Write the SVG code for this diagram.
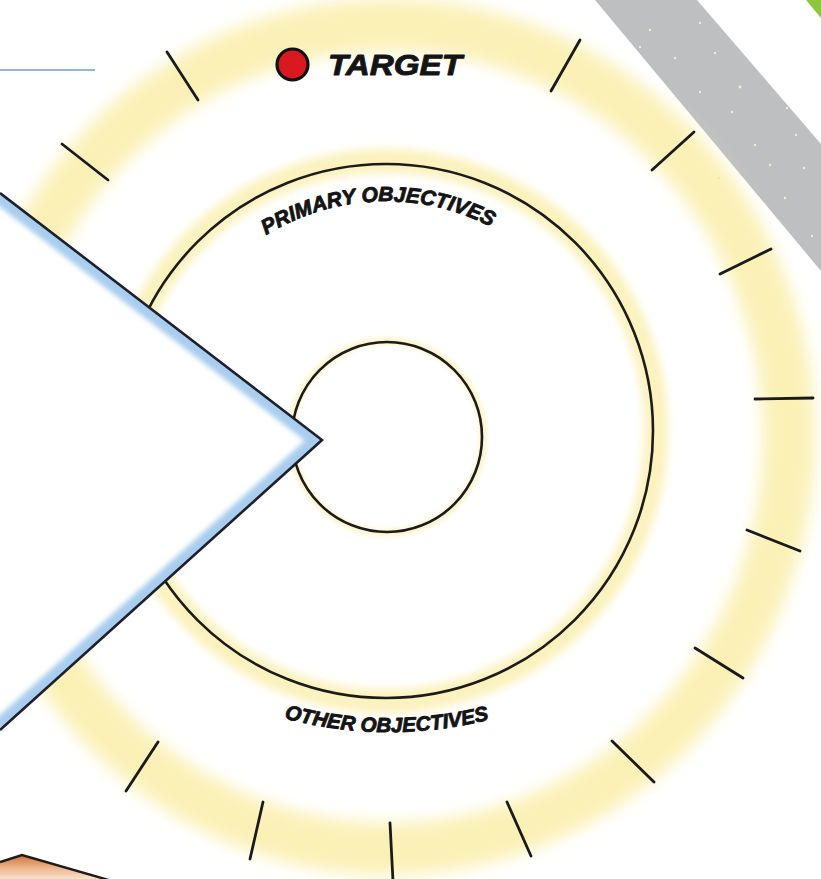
<svg xmlns="http://www.w3.org/2000/svg" width="821" height="879" viewBox="0 0 821 879">
  <defs>
    <style>
      .tick { stroke: #1a1a1a; stroke-width: 2.8; stroke-linecap: round; fill: none; }
      .ring { fill: none; stroke: #1c1a1a; stroke-width: 2.6; }
      .lbl { font-family: "Liberation Sans", Arial, sans-serif; font-weight: bold; font-style: italic; fill: #141414; stroke: #141414; stroke-width: 0.9; stroke-linejoin: round; }
      .dot { fill: #f3eecb; }
    </style>
    <filter id="blur8" x="-20%" y="-20%" width="140%" height="140%"><feGaussianBlur stdDeviation="8"/></filter>
    <filter id="blur4" x="-20%" y="-20%" width="140%" height="140%"><feGaussianBlur stdDeviation="4"/></filter>
    <filter id="blur2" x="-20%" y="-20%" width="140%" height="140%"><feGaussianBlur stdDeviation="2.5"/></filter>
    <clipPath id="triClip"><polygon points="0,193 322,440 0,730"/></clipPath>
    <linearGradient id="peach" x1="0" y1="0" x2="0" y2="1">
      <stop offset="0" stop-color="#c9743a"/>
      <stop offset="0.5" stop-color="#eeb58c"/>
      <stop offset="1" stop-color="#fbe9dc"/>
    </linearGradient>
    <path id="primaryArc" d="M254,243 A230,230 0 0,1 518,243"/>
    <path id="otherArc" d="M280,717 A400,400 0 0,0 502,716"/>
  </defs>

  <rect width="821" height="879" fill="#ffffff"/>

  <g id="background-band">
    <polygon points="595,0 697,0 821,144 821,271" fill="#bebfc1"/>
    <polygon points="806,0 821,0 821,18" fill="#8cc63f"/>
    <g>
      <circle class="dot" cx="650" cy="30" r="1.2"/>
      <circle class="dot" cx="700" cy="23" r="1.2"/>
      <circle class="dot" cx="675" cy="58" r="1.2"/>
      <circle class="dot" cx="715" cy="53" r="1.2"/>
      <circle class="dot" cx="700" cy="92" r="1.2"/>
      <circle class="dot" cx="740" cy="87" r="1.4"/>
      <circle class="dot" cx="732" cy="112" r="1.2"/>
      <circle class="dot" cx="755" cy="145" r="1.2"/>
      <circle class="dot" cx="770" cy="165" r="1.2"/>
      <circle class="dot" cx="787" cy="108" r="1.2"/>
      <circle class="dot" cx="796" cy="135" r="1.2"/>
      <circle class="dot" cx="785" cy="198" r="1.2"/>
      <circle class="dot" cx="804" cy="168" r="1.2"/>
      <circle class="dot" cx="812" cy="236" r="1.2"/>
      <circle class="dot" cx="719" cy="178" r="1.2"/>
      <circle class="dot" cx="640" cy="47" r="1.2"/>
    </g>
  </g>

  <g id="outer-ring">
    <ellipse cx="389" cy="437" rx="400" ry="412" fill="none" stroke="#f7e67c" stroke-opacity="0.55" stroke-width="52" filter="url(#blur8)"/>
    <g id="ticks">
      <line class="tick" x1="167" y1="52" x2="198" y2="100"/>
      <line class="tick" x1="62" y1="144" x2="108" y2="180"/>
      <line class="tick" x1="580" y1="40" x2="551" y2="91"/>
      <line class="tick" x1="694" y1="132" x2="652" y2="170"/>
      <line class="tick" x1="771" y1="249" x2="720" y2="274"/>
      <line class="tick" x1="755" y1="399" x2="813" y2="398"/>
      <line class="tick" x1="747" y1="530" x2="800" y2="551"/>
      <line class="tick" x1="695" y1="648" x2="743" y2="678"/>
      <line class="tick" x1="612" y1="741" x2="654" y2="782"/>
      <line class="tick" x1="507" y1="802" x2="531" y2="856"/>
      <line class="tick" x1="390" y1="823" x2="393" y2="881"/>
      <line class="tick" x1="263" y1="802" x2="250" y2="859"/>
      <line class="tick" x1="158" y1="742" x2="126" y2="791"/>
    </g>
  </g>

  <g id="target">
    <circle cx="292.5" cy="64.5" r="15.5" fill="#d9191f" stroke="#111" stroke-width="3.2"/>
    <text class="lbl" x="328" y="75" font-size="29" textLength="134" lengthAdjust="spacingAndGlyphs">TARGET</text>
  </g>

  <g id="primary-objectives">
    <circle cx="386" cy="431" r="270" fill="none" stroke="#f7e67c" stroke-opacity="0.5" stroke-width="24" filter="url(#blur4)"/>
    <circle class="ring" cx="386" cy="431" r="267"/>
    <text class="lbl" font-size="21"><textPath href="#primaryArc" startOffset="47%" text-anchor="middle">PRIMARY OBJECTIVES</textPath></text>
  </g>

  <g id="other-objectives">
    <text class="lbl" font-size="20.5"><textPath href="#otherArc" startOffset="48%" text-anchor="middle">OTHER OBJECTIVES</textPath></text>
  </g>

  <g id="inner-circle">
    <circle cx="387" cy="437" r="96" fill="none" stroke="#f7e67c" stroke-opacity="0.5" stroke-width="6" filter="url(#blur2)"/>
    <circle class="ring" cx="387" cy="437" r="95"/>
  </g>

  <g id="pointer">
    <polygon points="0,193 322,440 0,730" fill="#ffffff"/>
    <g clip-path="url(#triClip)">
      <polyline points="0,193 322,440 0,730" fill="none" stroke="#a9cdee" stroke-width="22" filter="url(#blur2)"/>
    </g>
    <polyline points="0,193 322,440 0,730" fill="none" stroke="#1d1f2c" stroke-width="2.6" stroke-linejoin="miter"/>
  </g>

  <g id="top-left-line">
    <line x1="0" y1="70" x2="95" y2="70" stroke="#8fb6df" stroke-width="2"/>
  </g>

  <g id="bottom-shape">
    <path d="M0,862 L22,855 L112,881 L0,881 Z" fill="url(#peach)"/>
    <path d="M0,862 L22,855 L112,881" fill="none" stroke="#1e1a18" stroke-width="2.4"/>
  </g>
</svg>
